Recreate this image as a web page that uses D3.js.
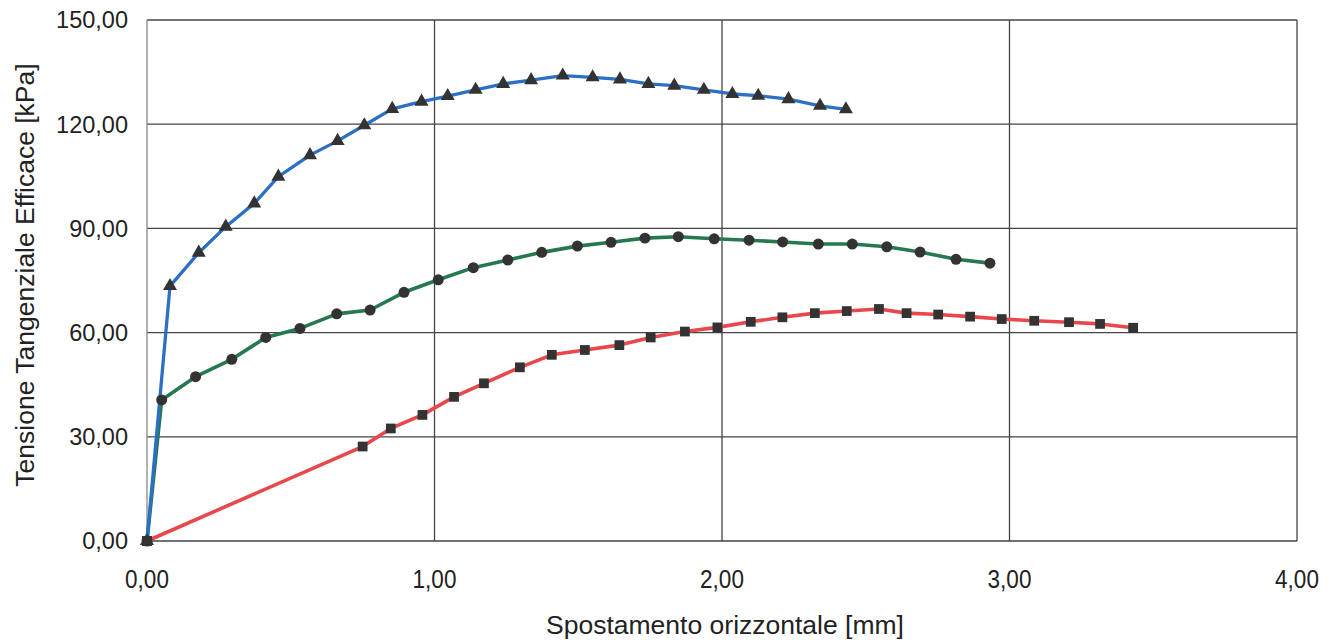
<!DOCTYPE html>
<html><head><meta charset="utf-8">
<script src="https://cdn.jsdelivr.net/npm/d3@7"></script>
<style>body{margin:0;background:#fff}svg{display:block}text{font-family:"Liberation Sans",Arial,sans-serif;fill:#222}</style>
</head><body>
<svg id="c" width="1335" height="640"></svg>
<script>
const xTicks = [0, 1, 2, 3, 4];
const yTicks = [0, 30, 60, 90, 120, 150];
const xLabel = "Spostamento orizzontale [mm]";
const yLabel = "Tensione Tangenziale Efficace [kPa]";

const blueX = [0,0.08,0.18,0.274,0.373,0.457,0.567,0.663,0.756,0.853,0.955,1.046,1.143,1.239,1.336,1.446,1.55,1.645,1.744,1.834,1.937,2.036,2.126,2.231,2.341,2.431];
const blueY = [0,73.4,83.0,90.5,97.2,104.9,111.1,115.2,119.7,124.4,126.5,128.1,129.9,131.6,132.7,134.0,133.5,132.9,131.6,131.1,129.9,128.7,128.2,127.2,125.3,124.3];

const greenX = [0,0.051,0.169,0.295,0.413,0.532,0.66,0.776,0.894,1.013,1.135,1.255,1.373,1.497,1.614,1.732,1.848,1.973,2.094,2.211,2.335,2.453,2.573,2.689,2.814,2.932];
const greenY = [0,40.6,47.3,52.3,58.6,61.2,65.4,66.5,71.6,75.2,78.7,80.9,83.1,84.9,86.0,87.2,87.6,87.0,86.6,86.1,85.5,85.5,84.7,83.2,81.1,80.0];

const redX = [0,0.75,0.848,0.958,1.068,1.172,1.297,1.408,1.523,1.643,1.752,1.871,1.984,2.1,2.21,2.323,2.434,2.546,2.642,2.752,2.863,2.973,3.086,3.207,3.315,3.43];
const redY = [0,27.2,32.4,36.3,41.5,45.4,50.0,53.6,55.0,56.4,58.6,60.3,61.5,63.1,64.4,65.6,66.2,66.8,65.6,65.2,64.6,63.9,63.4,63.0,62.5,61.4];

const fmt = v => d3.format(".2f")(v).replace(".", ",");

const svg = d3.select("#c");
const L = 147, R = 1297, T = 20, B = 541;
const x = d3.scaleLinear().domain([0, 4]).range([L, R]);
const y = d3.scaleLinear().domain([0, 150]).range([B, T]);

// grid
const g = svg.append("g");
g.selectAll(".hg").data(yTicks).enter().append("line")
  .attr("x1", L).attr("x2", R).attr("y1", d => y(d)).attr("y2", d => y(d))
  .attr("stroke", "#444").attr("stroke-width", 1.3);
g.selectAll(".vg").data(xTicks).enter().append("line")
  .attr("y1", T).attr("y2", B).attr("x1", d => x(d)).attr("x2", d => x(d))
  .attr("stroke", d => d === 0 ? "#888" : "#444").attr("stroke-width", 1.3);

// y tick labels
svg.append("g").selectAll("text").data(yTicks).enter().append("text")
  .attr("x", 128).attr("y", d => y(d)).attr("dy", "0.36em")
  .attr("text-anchor", "end").style("font-size", "23.5px").text(fmt);

// x tick labels (slightly condensed)
svg.append("g").selectAll("text").data(xTicks).enter().append("text")
  .attr("transform", d => `translate(${x(d)},588) scale(0.85,1)`)
  .attr("text-anchor", "middle").style("font-size", "26.5px").text(fmt);

svg.append("text").attr("x", 725).attr("y", 634).attr("text-anchor", "middle")
  .style("font-size", "26.5px").text(xLabel);
svg.append("text").attr("transform", "translate(34,275) rotate(-90)")
  .attr("text-anchor", "middle").style("font-size", "26.5px").text(yLabel);

const series = [
  {xs: redX, ys: redY, color: "#e8474c", w: 3.6, sym: d3.symbolSquare, size: 95},
  {xs: greenX, ys: greenY, color: "#26784f", w: 3.6, sym: d3.symbolCircle, size: 95},
  {xs: blueX, ys: blueY, color: "#2b70c4", w: 3.3, sym: d3.symbolTriangle, size: 85}
];
const line = d3.line().x(d => x(d[0])).y(d => y(d[1]));
series.forEach(s => {
  const pts = s.xs.map((v, i) => [v, s.ys[i]]);
  svg.append("path").datum(pts).attr("d", line).attr("fill", "none")
    .attr("stroke", s.color).attr("stroke-width", s.w).attr("stroke-linejoin", "round");
});
series.forEach(s => {
  const pts = s.xs.map((v, i) => [v, s.ys[i]]);
  svg.append("g").selectAll("path").data(pts).enter().append("path")
    .attr("d", d3.symbol().type(s.sym).size(s.size))
    .attr("transform", d => `translate(${x(d[0])},${y(d[1])})`)
    .attr("fill", "#333");
});
// origin square on top
svg.append("path").attr("d", d3.symbol().type(d3.symbolSquare).size(95)())
  .attr("transform", `translate(${x(redX[0])},${y(redY[0])})`).attr("fill", "#333");
</script>
</body></html>
